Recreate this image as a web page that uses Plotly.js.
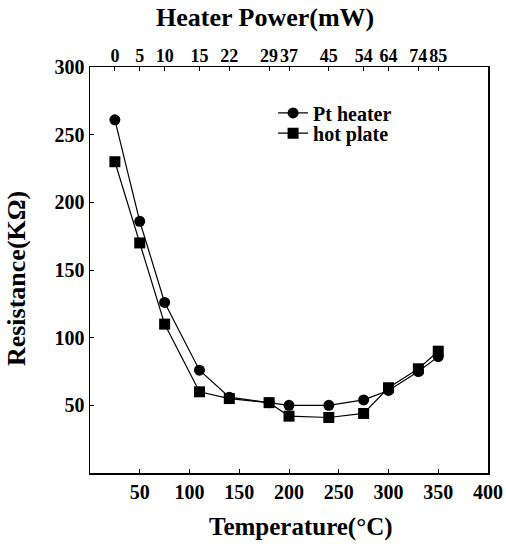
<!DOCTYPE html>
<html>
<head>
<meta charset="utf-8">
<script src="https://cdn.plot.ly/plotly-3.0.1.min.js"></script>
<style>html,body{margin:0;padding:0;background:#fff}#chart{width:506px;height:547px}</style>
</head>
<body>
<div id="chart"></div>
<script>
// Data
const temperature = [25, 50, 75, 110, 140, 180, 200, 240, 275, 300, 330, 350];
const heaterPower = ["0", "5", "10", "15", "22", "29", "37", "45", "54", "64", "74", "85"];
const ptHeater = [261, 186, 126, 76, 56, 52, 50, 50, 54, 61, 75, 86];
const hotPlate = [230, 170, 110, 60, 55, 52, 42, 41, 44, 63, 77, 90];
const xTicks = [50, 100, 150, 200, 250, 300, 350, 400];
const yTicks = [50, 100, 150, 200, 250, 300];

const serif = "Liberation Serif, Times New Roman, serif";
const tickFont = {family: serif, size: 20, color: "#000", weight: "bold"};
const topTickFont = {family: serif, size: 18, color: "#000", weight: "bold"};
const legendFont = {family: serif, size: 20, color: "#000", weight: "bold"};
const font = (s) => ({family: serif, size: s, color: "#000", weight: "bold"});

const traces = [
  {x: temperature, y: ptHeater, name: "Pt heater", type: "scatter", mode: "lines+markers", legend: "legend",
   line: {color: "#000", width: 1.2}, marker: {symbol: "circle", size: 11, color: "#000"}},
  {x: temperature, y: hotPlate, name: "hot plate", type: "scatter", mode: "lines+markers", legend: "legend2",
   line: {color: "#000", width: 1.2}, marker: {symbol: "square", size: 11, color: "#000"}},
  {x: temperature, y: ptHeater, xaxis: "x2", type: "scatter", mode: "markers",
   marker: {opacity: 0}, showlegend: false, hoverinfo: "skip"}
];

const layout = {
  width: 506, height: 547,
  margin: {l: 90, r: 18, t: 67, b: 74},
  paper_bgcolor: "#fff", plot_bgcolor: "#fff",
  showlegend: true,
  legend: {x: 0.46, y: 0.887, xanchor: "left", yanchor: "middle", font: legendFont,
           bgcolor: "rgba(0,0,0,0)", itemwidth: 30},
  legend2: {x: 0.46, y: 0.837, xanchor: "left", yanchor: "middle", font: legendFont,
            bgcolor: "rgba(0,0,0,0)", itemwidth: 30},
  xaxis: {range: [0, 400], tickvals: xTicks, ticks: "inside", ticklen: 4, tickcolor: "#000",
          showline: true, linecolor: "#000", linewidth: 1.5, mirror: true, tickangle: 0,
          showgrid: false, zeroline: false, tickfont: tickFont},
  xaxis2: {range: [0, 400], overlaying: "x", side: "top", anchor: "y", tickangle: 0,
           tickvals: temperature, ticktext: heaterPower, ticks: "inside", ticklen: 4, tickcolor: "#000",
           showline: false, showgrid: false, zeroline: false, tickfont: topTickFont},
  yaxis: {range: [0, 300], tickvals: yTicks, ticks: "inside", ticklen: 4, tickcolor: "#000",
          showline: true, linecolor: "#000", linewidth: 1.5, mirror: true,
          showgrid: false, zeroline: false, tickfont: tickFont},
  annotations: [
    {text: "Heater Power(mW)", xref: "paper", yref: "paper", x: 0.44, y: 1.121,
     xanchor: "center", yanchor: "middle", showarrow: false, font: font(26)},
    {text: "Temperature(°C)", xref: "paper", yref: "paper", x: 0.53, y: -0.133,
     xanchor: "center", yanchor: "middle", showarrow: false, font: font(25)},
    {text: "Resistance(KΩ)", xref: "paper", yref: "paper", x: -0.183, y: 0.478, textangle: -90,
     xanchor: "center", yanchor: "middle", showarrow: false, font: font(26)}
  ]
};

Plotly.newPlot("chart", traces, layout, {displayModeBar: false, staticPlot: true});
</script>
</body>
</html>
